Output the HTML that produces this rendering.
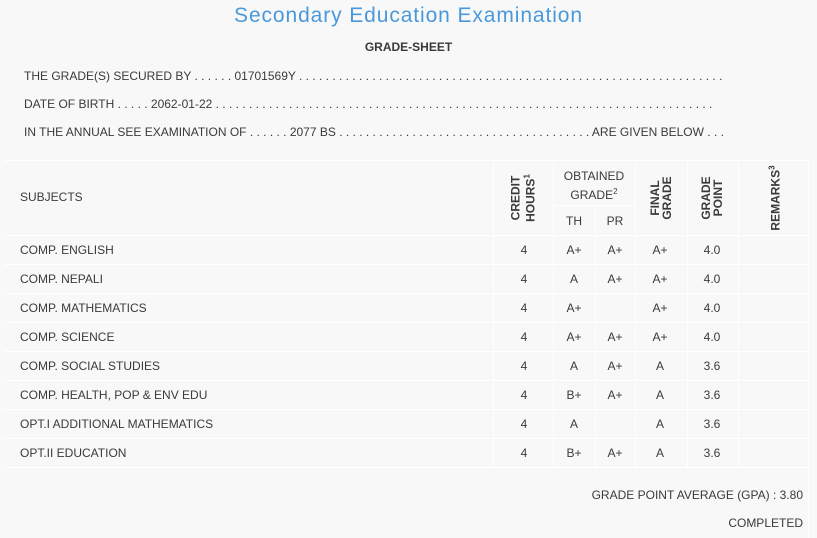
<!DOCTYPE html>
<html><head><meta charset="utf-8"><style>
body{margin:0;width:817px;height:538px;background:#f8f8f8;font-family:"Liberation Sans",sans-serif;color:#3a3a3a;font-size:12px;position:relative;overflow:hidden}
.a{position:absolute;white-space:nowrap}
.c{position:absolute;text-align:center;transform:translateX(-50%)}
.h{position:absolute;background:#fff;height:1px}
.v{position:absolute;background:#fff;width:1px}
.r{position:absolute;transform:translate(-50%,-50%) rotate(-90deg);text-align:center;line-height:12px;font-weight:bold;white-space:nowrap}
</style></head><body>
<div class="a" style="left:0;width:817px;text-align:center;top:4px;font-size:21px;letter-spacing:0.9px;color:#4a98dc">Secondary Education Examination</div>
<div class="a" style="left:0;width:817px;text-align:center;top:40px;font-weight:bold">GRADE-SHEET</div>
<div class="a" style="left:24px;top:69px">THE GRADE(S) SECURED BY . . . . . . 01701569Y . . . . . . . . . . . . . . . . . . . . . . . . . . . . . . . . . . . . . . . . . . . . . . . . . . . . . . . . . . . . . . . .</div>
<div class="a" style="left:24px;top:97px">DATE OF BIRTH . . . . . 2062-01-22 . . . . . . . . . . . . . . . . . . . . . . . . . . . . . . . . . . . . . . . . . . . . . . . . . . . . . . . . . . . . . . . . . . . . . . . . . . .</div>
<div class="a" style="left:24px;top:125px">IN THE ANNUAL SEE EXAMINATION OF . . . . . . 2077 BS . . . . . . . . . . . . . . . . . . . . . . . . . . . . . . . . . . . . . . ARE GIVEN BELOW . . .</div>

<div class="h" style="left:4px;width:804px;top:160px"></div>
<div class="h" style="left:553px;width:82px;top:205px"></div>
<div class="h" style="left:4px;width:804px;top:235px"></div>
<div class="h" style="left:4px;width:804px;top:264px"></div>
<div class="h" style="left:4px;width:804px;top:293px"></div>
<div class="h" style="left:4px;width:804px;top:322px"></div>
<div class="h" style="left:4px;width:804px;top:351px"></div>
<div class="h" style="left:4px;width:804px;top:380px"></div>
<div class="h" style="left:4px;width:804px;top:409px"></div>
<div class="h" style="left:4px;width:804px;top:438px"></div>
<div class="h" style="left:4px;width:804px;top:467px"></div>
<div class="v" style="left:493px;top:160px;height:307px"></div>
<div class="v" style="left:553px;top:160px;height:307px"></div>
<div class="v" style="left:595px;top:205px;height:262px"></div>
<div class="v" style="left:635px;top:160px;height:307px"></div>
<div class="v" style="left:687px;top:160px;height:307px"></div>
<div class="v" style="left:738px;top:160px;height:307px"></div>
<div class="v" style="left:808px;top:160px;height:378px"></div>

<div class="a" style="left:20px;top:190px">SUBJECTS</div>
<div class="r" style="left:523px;top:198px">CREDIT<br>HOURS<sup style="font-size:8px">1</sup></div>
<div class="c" style="left:594px;top:168px;line-height:16px">OBTAINED<br>GRADE<sup style="font-size:8px">2</sup></div>
<div class="c" style="left:574px;top:214px">TH</div>
<div class="c" style="left:615px;top:214px">PR</div>
<div class="r" style="left:661px;top:198px">FINAL<br>GRADE</div>
<div class="r" style="left:712px;top:198px">GRADE<br>POINT</div>
<div class="r" style="left:774px;top:198px">REMARKS<sup style="font-size:8px">3</sup></div>

<div class="a" style="left:20px;top:243px">COMP. ENGLISH</div>
<div class="a" style="left:20px;top:272px">COMP. NEPALI</div>
<div class="a" style="left:20px;top:301px">COMP. MATHEMATICS</div>
<div class="a" style="left:20px;top:330px">COMP. SCIENCE</div>
<div class="a" style="left:20px;top:359px">COMP. SOCIAL STUDIES</div>
<div class="a" style="left:20px;top:388px">COMP. HEALTH, POP &amp; ENV EDU</div>
<div class="a" style="left:20px;top:417px">OPT.I ADDITIONAL MATHEMATICS</div>
<div class="a" style="left:20px;top:446px">OPT.II EDUCATION</div>

<div class="c" style="left:524px;top:243px">4</div><div class="c" style="left:574px;top:243px">A+</div><div class="c" style="left:615px;top:243px">A+</div><div class="c" style="left:660px;top:243px">A+</div><div class="c" style="left:712px;top:243px">4.0</div>
<div class="c" style="left:524px;top:272px">4</div><div class="c" style="left:574px;top:272px">A</div><div class="c" style="left:615px;top:272px">A+</div><div class="c" style="left:660px;top:272px">A+</div><div class="c" style="left:712px;top:272px">4.0</div>
<div class="c" style="left:524px;top:301px">4</div><div class="c" style="left:574px;top:301px">A+</div><div class="c" style="left:660px;top:301px">A+</div><div class="c" style="left:712px;top:301px">4.0</div>
<div class="c" style="left:524px;top:330px">4</div><div class="c" style="left:574px;top:330px">A+</div><div class="c" style="left:615px;top:330px">A+</div><div class="c" style="left:660px;top:330px">A+</div><div class="c" style="left:712px;top:330px">4.0</div>
<div class="c" style="left:524px;top:359px">4</div><div class="c" style="left:574px;top:359px">A</div><div class="c" style="left:615px;top:359px">A+</div><div class="c" style="left:660px;top:359px">A</div><div class="c" style="left:712px;top:359px">3.6</div>
<div class="c" style="left:524px;top:388px">4</div><div class="c" style="left:574px;top:388px">B+</div><div class="c" style="left:615px;top:388px">A+</div><div class="c" style="left:660px;top:388px">A</div><div class="c" style="left:712px;top:388px">3.6</div>
<div class="c" style="left:524px;top:417px">4</div><div class="c" style="left:574px;top:417px">A</div><div class="c" style="left:660px;top:417px">A</div><div class="c" style="left:712px;top:417px">3.6</div>
<div class="c" style="left:524px;top:446px">4</div><div class="c" style="left:574px;top:446px">B+</div><div class="c" style="left:615px;top:446px">A+</div><div class="c" style="left:660px;top:446px">A</div><div class="c" style="left:712px;top:446px">3.6</div>

<div class="a" style="right:14px;top:488px">GRADE POINT AVERAGE (GPA) : 3.80</div>
<div class="a" style="right:14px;top:516px">COMPLETED</div>
</body></html>
